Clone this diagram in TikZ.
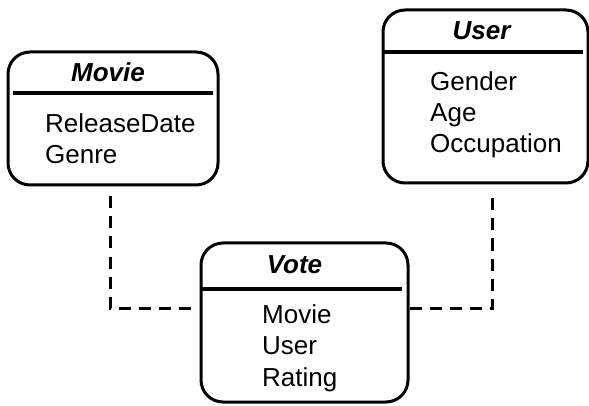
\documentclass[tikz,border=0pt]{standalone}
\usepackage{fontspec}
\setmainfont{Liberation Sans}
\begin{document}
\begin{tikzpicture}[x=1pt,y=-1pt,
  box/.style={draw,line width=3pt,rounded corners=22pt,inner sep=0pt},
  hdr/.style={line width=3.2pt},
  conn/.style={line width=3pt,dash pattern=on 12pt off 8pt},
  ttl/.style={font=\fontsize{26}{31}\selectfont\bfseries\itshape,anchor=base,inner sep=0pt},
  att/.style={font=\fontsize{26}{31}\selectfont,anchor=base west,inner sep=0pt}]
\useasboundingbox (0,0) rectangle (589,406);
% boxes
\node[box,minimum width=210pt,minimum height=133pt] (movie) at (113,118.5) {};
\node[box,minimum width=205pt,minimum height=173pt] (user) at (485.5,96.5) {};
\node[box,minimum width=207pt,minimum height=159pt] (vote) at (304.5,322.5) {};
% header separators
\draw[hdr] (13,93) -- (213,93);
\draw[hdr] (383,52) -- (583,52);
\draw[hdr] (202,289) -- (402,289);
% titles
\node[ttl] (movieT) at (108,81.7) {Movie};
\node[ttl] (userT) at (481.5,40) {User};
\node[ttl] (voteT) at (294.5,273.3) {Vote};
% attributes
\node[att] (m1) at (45,133) {ReleaseDate};
\node[att] (m2) at (45,164) {Genre};
\node[att] (u1) at (430,91) {Gender};
\node[att] (u2) at (430,122) {Age};
\node[att] (u3) at (430,153) {Occupation};
\node[att] (v1) at (262,323) {Movie};
\node[att] (v2) at (262,354.5) {User};
\node[att] (v3) at (262,386) {Rating};
% connectors
\draw[conn,shorten <=10pt,shorten >=8pt] ([xshift=-3pt]movie.south) |- ([yshift=14.5pt]vote.west);
\draw[conn,shorten >=12pt] ([yshift=14.5pt]vote.east) -| ([xshift=6.5pt]user.south);
\end{tikzpicture}
\end{document}
